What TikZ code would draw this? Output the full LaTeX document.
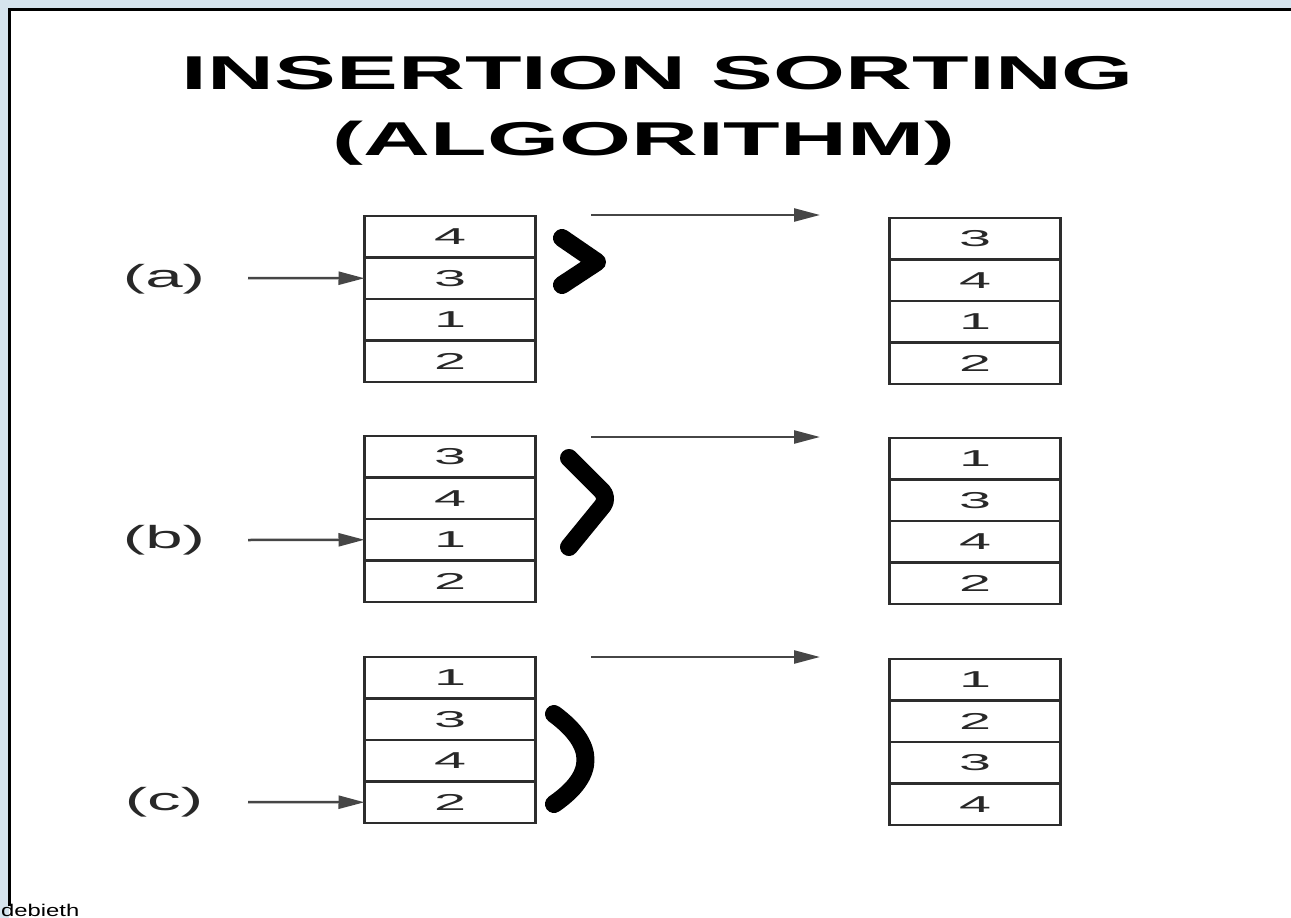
\documentclass[tikz,border=0pt]{standalone}
\usepackage{fontspec}
\usepackage{graphicx}
\setmainfont{Liberation Sans}
\usetikzlibrary{arrows.meta}
\definecolor{bgblue}{RGB}{214,228,238}
\definecolor{linegray}{RGB}{45,45,45}
\definecolor{arrgray}{RGB}{70,70,70}
\definecolor{txtgray}{RGB}{40,40,40}
\newcommand\sn[1]{\scalebox{2.5}[1]{#1}}
\newcommand\slbl[1]{\scalebox{2.1}[1]{#1}}
\begin{document}
\begin{tikzpicture}[x=1pt,y=-1pt,
  cell/.style={draw=linegray,line width=2.5pt,minimum width=171pt,minimum height=41.5pt,inner sep=0pt,outer sep=0pt,text=txtgray,font=\fontsize{23}{23}\selectfont},
  lbl/.style={font=\fontsize{32}{32}\selectfont,text=txtgray,inner sep=0pt},
  ptr/.style={draw=arrgray,line width=2.5pt,-{Triangle[length=26pt,width=13pt]}},
  brk/.style={line width=18pt,line cap=round,line join=round},
  ttl/.style={font=\fontsize{47.5}{47.5}\selectfont\bfseries,inner sep=0pt,anchor=base}
]
\useasboundingbox (0,0) rectangle (1291,918);
% background and panel
\fill[bgblue] (0,0) rectangle (1291,918);
\fill[white] (9,9) rectangle (1295,925);
\draw[line width=3pt] (9,906) -- (9,9) -- (1295,9);
\node[anchor=base west,inner sep=0pt,font=\fontsize{17}{17}\selectfont] (foot) at (1,916) {\scalebox{1.4}[1]{debieth}};

% title
\node[ttl] (t1) at (658,89) {\scalebox{1.95}[1]{INSERTION SORTING}};
\node[ttl] (t2) at (644,155) {\scalebox{1.95}[1]{(ALGORITHM)}};

% (a)
\foreach \v [count=\i] in {4,3,1,2}
  \node[cell] (al\i) at (450,{216+20.75+(\i-1)*41.5}) {\sn{\v}};
\foreach \v [count=\i] in {3,4,1,2}
  \node[cell] (ar\i) at (975,{218+20.75+(\i-1)*41.5}) {\sn{\v}};
% (b)
\foreach \v [count=\i] in {3,4,1,2}
  \node[cell] (bl\i) at (450,{436+20.75+(\i-1)*41.5}) {\sn{\v}};
\foreach \v [count=\i] in {1,3,4,2}
  \node[cell] (br\i) at (975,{438+20.75+(\i-1)*41.5}) {\sn{\v}};
% (c)
\foreach \v [count=\i] in {1,3,4,2}
  \node[cell] (cl\i) at (450,{657+20.75+(\i-1)*41.5}) {\sn{\v}};
\foreach \v [count=\i] in {1,2,3,4}
  \node[cell] (cr\i) at (975,{659+20.75+(\i-1)*41.5}) {\sn{\v}};

% labels
\node[lbl] (la) at (164,279) {\slbl{(a)}};
\node[lbl] (lb) at (164,540) {\slbl{(b)}};
\node[lbl] (lc) at (164,802) {\slbl{(c)}};

% pointer arrows
\coordinate (pa) at (248,278);
\coordinate (pb) at (248,540);
\coordinate (pc) at (248,802);
\draw[ptr] (pa) -- (al2.west);
\draw[ptr] (pb) -- (bl3.west);
\draw[ptr] (pc) -- (cl4.west);

% top arrows
\coordinate (sa) at (591,215);
\coordinate (ea) at (820,215);
\coordinate (sb) at (591,437);
\coordinate (eb) at (820,437);
\coordinate (sc) at (591,657);
\coordinate (ec) at (820,657);
\draw[ptr] (sa) -- (ea);
\draw[ptr] (sb) -- (eb);
\draw[ptr] (sc) -- (ec);

% brackets
\draw[brk] (562,238) -- (597,262) -- (562,285);
\draw[brk,rounded corners=10pt] (569,458) -- (609,498) -- (569,547);
\draw[brk] (554,714) .. controls (596,745) and (596,775) .. (554,804);
\end{tikzpicture}
\end{document}
